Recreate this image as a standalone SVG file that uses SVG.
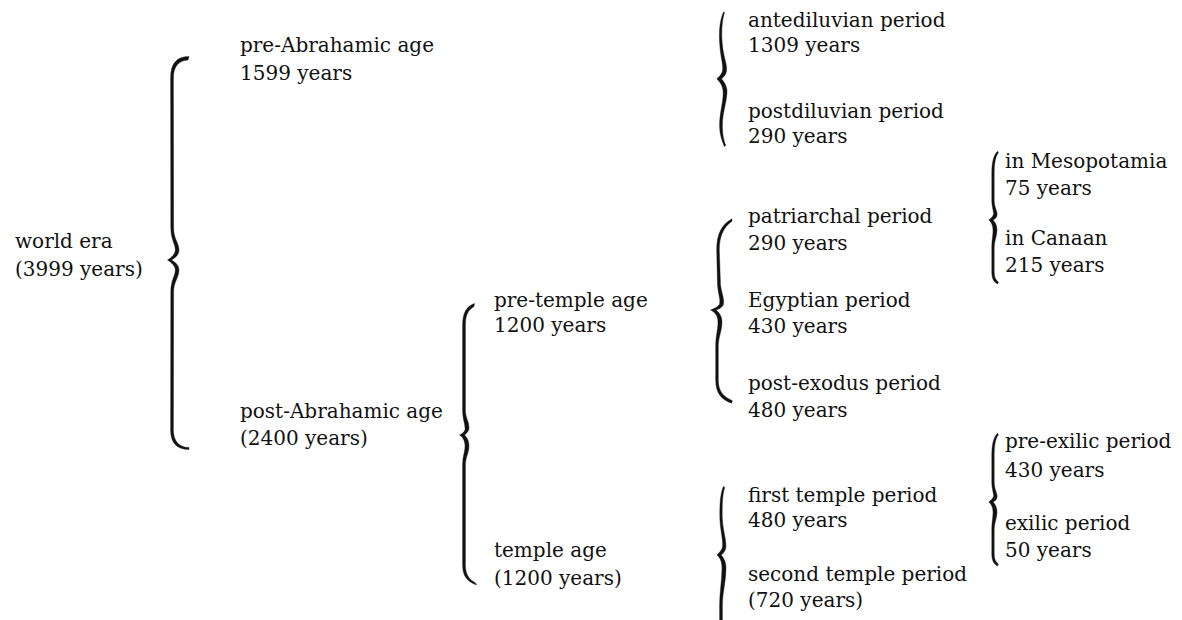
<svg xmlns="http://www.w3.org/2000/svg" width="1182" height="620" viewBox="0 0 1182 620">
<style>
  text { font-family: "DejaVu Serif", "Liberation Serif", serif; font-size: 20px; fill: #111; }
  .brace { fill: #111; stroke: #111; stroke-width: 0.4; stroke-linejoin: round; }
</style>
<rect width="1182" height="620" fill="#fff"/>

<g id="connectors">
  <path id="brace-world" class="brace" d="M 189,56.5 C 177,56.5 170.6,63 170.6,78 L 170.8,228 C 171,240 175.3,244 175.3,250 C 175.3,254 171.5,257.5 167.5,260 C 171.5,262.5 175.3,266 175.3,270 C 175.3,276 170.8,280 170.8,292 L 170.6,430 C 170.6,443 177,449.5 189,449.5 L 189,447.5 C 179,447.5 173.4,441 173.4,430 L 173.6,292 C 173.6,282 179,277 179,270 C 179,265 175,262 171.5,260 C 175,258 179,255 179,250 C 179,243 173.6,239 173.6,228 L 173.4,78 C 173.4,66 179,60.5 188,60 Z"/>
  <path id="brace-preabr" class="brace" d="M 723.5,12 C 719,22 719,35 719.8,45 C 720.5,58 724,66 722.2,72 C 721,75 718.5,77 716.8,79 C 719,81 722,84 723,90 C 724,100 719.6,112 719.6,125 C 719.6,135 722,140 724.3,146.6 L 725.7,145.4 C 723.8,140 722.4,135 722.4,125 C 722.4,112 727.5,100 727,90 C 726,84 723.5,81 721.5,79 C 723.2,77 726,75 726.3,72 C 728,66 723.6,58 722.4,45 C 721.4,35 721.4,22 724.5,12.4 Z"/>
  <path id="brace-postabr" class="brace" d="M 474.5,303.5 C 466,306.5 462.6,313 462.6,326 L 462.6,410 C 462.6,420 465.5,424 465,430 C 464,432 462,434 459.5,435 C 462,436.5 465,440 465,446 C 465,452 462.6,456 462.6,466 L 462.6,565 C 462.6,576 467,581.5 476.5,585 L 475.5,583 C 469,579.5 465.4,574 465.4,565 L 465.4,466 C 465.4,457 469,453 469,446 C 469,440 466.5,437 464.5,435 C 466.5,433.5 469,431 469,428 C 469,421 465.4,418 465.4,410 L 465.4,326 C 465.4,315 468,310 474,306.5 Z"/>
  <path id="brace-pretemple" class="brace" d="M 732,218.8 C 721,224.8 716.7,235 716.7,250 L 717.5,285 C 718.3,295 721,300 719.3,304.5 C 717.5,307 714.5,308.5 710.5,310 C 715,312 718,316 718,322 C 718,330 715.7,336 715.7,346 L 715.7,380 C 715.7,393 721,399.5 731.6,403.2 L 732.4,400.8 C 723,396.5 718.3,391 718.3,380 L 718.3,346 C 718.3,337 722,331 722,322 C 722,316 719,312.5 716,310 C 719,309 721.5,307.5 723,305.5 C 725,300 722,295 720.5,285 L 719.3,250 C 719.3,237 723,227.5 732,221.2 Z"/>
  <path id="brace-patriarchal" class="brace" d="M 997.6,151.2 C 993,155.5 991.8,164 991.8,174 L 991.8,200 C 991.8,208 994.2,212 993.4,214.6 C 992.6,217 990.8,218.6 988.8,220 C 991,221.8 993,225 993,230 C 993,236 991.8,240 991.8,248 L 991.8,272 C 991.8,279 994,282 997.6,284 L 998.4,282 C 995.6,280 994.2,277 994.2,272 L 994.2,248 C 994.2,241 997,236 997,230 C 997,225 995,222 993,220 C 995,219 996.6,217.5 997,215.4 C 998,212 994.2,208 994.2,200 L 994.2,174 C 994.2,165 995,157 998.4,152.8 Z"/>
  <path id="brace-temple" class="brace" d="M 723.3,486.6 C 720,495 719.8,505 719.8,515 C 719.8,530 723.6,540 722.4,547.5 C 721.6,550.5 719,552.5 717,555 C 719.5,557 722,561 722,568 C 722,580 719.6,592 719.6,605 L 719.6,621 L 722.4,621 L 722.4,605 C 722.4,593 726,581 726,568 C 726,561 723,557 721.3,555 C 723,553.5 725,551.5 725.7,548.5 C 727,540 722.2,530 722.2,515 C 722.2,505 722.2,495 724.7,487.4 Z"/>
  <path id="brace-firsttemple" class="brace" transform="translate(0,282)" d="M 997.6,151.2 C 993,155.5 991.8,164 991.8,174 L 991.8,200 C 991.8,208 994.2,212 993.4,214.6 C 992.6,217 990.8,218.6 988.8,220 C 991,221.8 993,225 993,230 C 993,236 991.8,240 991.8,248 L 991.8,272 C 991.8,279 994,282 997.6,284 L 998.4,282 C 995.6,280 994.2,277 994.2,272 L 994.2,248 C 994.2,241 997,236 997,230 C 997,225 995,222 993,220 C 995,219 996.6,217.5 997,215.4 C 998,212 994.2,208 994.2,200 L 994.2,174 C 994.2,165 995,157 998.4,152.8 Z"/>
</g>

<g id="world-era"><text x="15" y="248">world era</text><text x="15" y="276">(3999 years)</text></g>
<g id="pre-abrahamic"><text x="240" y="52">pre-Abrahamic age</text><text x="240" y="80">1599 years</text></g>
<g id="post-abrahamic"><text x="240" y="418">post-Abrahamic age</text><text x="240" y="445">(2400 years)</text></g>
<g id="pre-temple"><text x="494" y="307">pre-temple age</text><text x="494" y="332">1200 years</text></g>
<g id="temple"><text x="494" y="557">temple age</text><text x="494" y="585">(1200 years)</text></g>
<g id="antediluvian"><text x="748" y="27">antediluvian period</text><text x="748" y="52">1309 years</text></g>
<g id="postdiluvian"><text x="748" y="118">postdiluvian period</text><text x="748" y="143">290 years</text></g>
<g id="patriarchal"><text x="748" y="223">patriarchal period</text><text x="748" y="250">290 years</text></g>
<g id="egyptian"><text x="748" y="307">Egyptian period</text><text x="748" y="333">430 years</text></g>
<g id="post-exodus"><text x="748" y="390">post-exodus period</text><text x="748" y="417">480 years</text></g>
<g id="first-temple"><text x="748" y="502">first temple period</text><text x="748" y="527">480 years</text></g>
<g id="second-temple"><text x="748" y="581">second temple period</text><text x="748" y="607">(720 years)</text></g>
<g id="mesopotamia"><text x="1005" y="168">in Mesopotamia</text><text x="1005" y="195">75 years</text></g>
<g id="canaan"><text x="1005" y="245">in Canaan</text><text x="1005" y="272">215 years</text></g>
<g id="pre-exilic"><text x="1005" y="448">pre-exilic period</text><text x="1005" y="477">430 years</text></g>
<g id="exilic"><text x="1005" y="530">exilic period</text><text x="1005" y="557">50 years</text></g>
</svg>
